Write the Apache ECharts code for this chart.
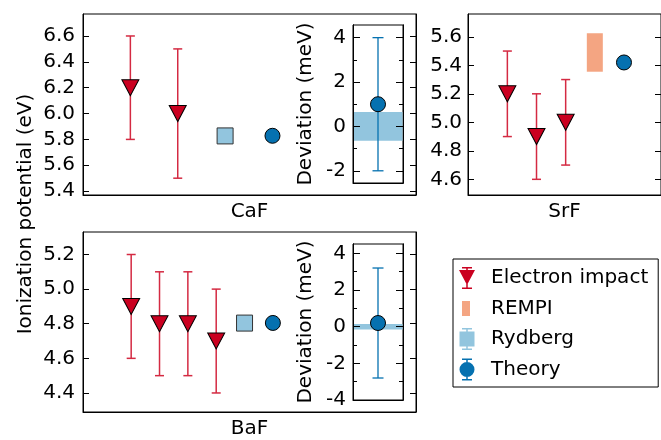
<!DOCTYPE html>
<html><head><meta charset="utf-8">
<script src="https://cdn.jsdelivr.net/npm/echarts@6/dist/echarts.min.js"></script>
<style>html,body{margin:0;padding:0;background:#fff}#c{width:661px;height:440px}</style>
</head><body><div id="c"></div>
<script>
const FONT = 'DejaVu Sans';
// ---- data ----
const categories = ['CaF', 'SrF', 'BaF'];
const legendNames = ['Electron impact', 'REMPI', 'Rydberg', 'Theory'];
// CaF
const cafEI = [6.2, 6.0];
const cafEIerr = [0.4, 0.5];
const cafRydberg = [5.827];
const cafTheory = [5.828];
const cafDev = [1.0];
const cafDevErr = [3.0];
const cafRydbergUnc = [0.65];
const cafTicks = [5.4, 5.6, 5.8, 6.0, 6.2, 6.4, 6.6];
const cafDevTicks = [-2, 0, 2, 4];
const cafDevMinor = [-1, 1, 3];
// SrF
const srfEI = [5.2, 4.9, 5.0];
const srfEIerr = [0.3, 0.3, 0.3];
const srfREMPI = [[5.355, 5.625]];
const srfTheory = [5.42];
const srfTicks = [4.6, 4.8, 5.0, 5.2, 5.4, 5.6];
// BaF
const bafEI = [4.9, 4.8, 4.8, 4.7];
const bafEIerr = [0.3, 0.3, 0.3, 0.3];
const bafRydberg = [4.8037];
const bafTheory = [4.8045];
const bafDev = [0.2];
const bafDevErr = [3.0];
const bafRydbergUnc = [0.15];
const bafTicks = [4.4, 4.6, 4.8, 5.0, 5.2];
const bafDevTicks = [-4, -2, 0, 2, 4];
const bafDevMinor = [-3, -1, 1, 3];

// ---- styles ----
const RED = '#ca0020', RED_ERR = '#d42a42', SALMON = '#f4a582', LBLUE = '#92c5de', BLUE = '#0571b0';
const txt = {fontFamily: FONT, fontSize: 20, color: '#000'};

function errSeries(name, xi, yi, data, color, lw, cap) {
  return {
    type: 'custom', name: name, xAxisIndex: xi, yAxisIndex: yi, silent: true, z: 2,
    data: data, encode: {x: 0, y: [1, 2]},
    renderItem: function (params, api) {
      const x = api.value(0), lo = api.value(1), hi = api.value(2);
      const a = api.coord([x, hi]), b = api.coord([x, lo]);
      const st = {stroke: color, lineWidth: lw};
      return {type: 'group', children: [
        {type: 'line', shape: {x1: a[0], y1: a[1], x2: b[0], y2: b[1]}, style: st},
        {type: 'line', shape: {x1: a[0] - cap, y1: a[1], x2: a[0] + cap, y2: a[1]}, style: st},
        {type: 'line', shape: {x1: b[0] - cap, y1: b[1], x2: b[0] + cap, y2: b[1]}, style: st}
      ]};
    }
  };
}
function bandSeries(name, xi, yi, data, xr) {
  return {
    type: 'custom', name: name, xAxisIndex: xi, yAxisIndex: yi, silent: true, z: 1,
    data: data, encode: {x: 0, y: [1, 2]},
    renderItem: function (params, api) {
      const lo = api.value(1), hi = api.value(2);
      const a = api.coord([xr[0], hi]), b = api.coord([xr[1], lo]);
      return {type: 'rect', shape: {x: a[0] + 0.5, y: a[1], width: b[0] - a[0] - 1, height: b[1] - a[1]}, style: {fill: LBLUE}};
    }
  };
}
function scat(name, xi, yi, data, symbol, size, color, rot, border) {
  return {type: 'scatter', name: name, xAxisIndex: xi, yAxisIndex: yi, data: data, symbol: symbol,
    symbolSize: size, symbolRotate: rot || 0, z: 5,
    itemStyle: {color: color, borderColor: border || '#000', borderWidth: 1, opacity: 1}};
}
function xAx(gi, min, max, name) {
  return {gridIndex: gi, type: 'value', min: min, max: max, z: 4,
    axisLine: {show: true, onZero: false, lineStyle: {color: '#000', width: 1}},
    axisTick: {show: false}, axisLabel: {show: false}, splitLine: {show: false},
    name: name || '', nameLocation: 'middle', nameGap: 7, nameTextStyle: txt};
}
function yAx(gi, min, max, pos, ticks, len, showLabel, margin, dec, name, nameGap) {
  return {gridIndex: gi, type: 'value', min: min, max: max, position: pos, z: 4,
    axisLine: {show: true, onZero: false, lineStyle: {color: '#000', width: 1}},
    axisTick: {show: true, inside: true, length: len, customValues: ticks, lineStyle: {color: '#000', width: 1}},
    axisLabel: {show: showLabel, customValues: ticks, margin: margin, fontFamily: FONT, fontSize: 20, color: '#000',
      formatter: function (v) { return v.toFixed(dec); }},
    splitLine: {show: false},
    name: name || '', nameLocation: 'middle', nameGap: nameGap || 0, nameRotate: 90, nameTextStyle: txt};
}
const pts = arr => arr.map((v, i) => [i, v]);
const errs = (arr, e, off) => arr.map((v, i) => [i + (off || 0), v - e[i], v + e[i]]);

// grid ranges
const cafX = [-1, 6.03], srfX = [-1.35, 5.27], bafX = [-1.7, 10.05], insX = [0, 2];
const cafY = [5.37, 6.77], srfY = [4.49, 5.76], bafY = [4.29, 5.33];
const cafDY = [-2.55, 4.57], bafDY = [-4, 4.51];

const option = {
  animation: false,
  backgroundColor: '#fff',
  grid: [
    {left: 83, top: 14, width: 333, height: 181, show: true, borderColor: '#000', borderWidth: 1, backgroundColor: '#fff'},
    {left: 353, top: 25, width: 50, height: 158, show: true, borderColor: '#000', borderWidth: 1, backgroundColor: '#fff'},
    {left: 468, top: 14, width: 194, height: 181, show: true, borderColor: '#000', borderWidth: 1, backgroundColor: '#fff'},
    {left: 83, top: 232, width: 333, height: 181, show: true, borderColor: '#000', borderWidth: 1, backgroundColor: '#fff'},
    {left: 353, top: 244, width: 50, height: 156, show: true, borderColor: '#000', borderWidth: 1, backgroundColor: '#fff'}
  ],
  xAxis: [
    xAx(0, cafX[0], cafX[1], categories[0]),
    xAx(1, insX[0], insX[1]),
    xAx(2, srfX[0], srfX[1], categories[1]),
    xAx(3, bafX[0], bafX[1], categories[2]),
    xAx(4, insX[0], insX[1])
  ],
  yAxis: [
    yAx(0, cafY[0], cafY[1], 'left', cafTicks, 6, true, 8, 1),            // 0
    yAx(0, cafY[0], cafY[1], 'right', cafTicks, 6, false, 8, 1),          // 1
    yAx(1, cafDY[0], cafDY[1], 'left', cafDevTicks, 7, true, 7, 0, 'Deviation (meV)', 37), // 2
    yAx(1, cafDY[0], cafDY[1], 'left', cafDevMinor, 4, false, 7, 0),      // 3
    yAx(1, cafDY[0], cafDY[1], 'right', cafDevTicks, 7, false, 7, 0),     // 4
    yAx(1, cafDY[0], cafDY[1], 'right', cafDevMinor, 4, false, 7, 0),     // 5
    yAx(2, srfY[0], srfY[1], 'left', srfTicks, 6, true, 6, 1),            // 6
    yAx(2, srfY[0], srfY[1], 'right', srfTicks, 6, false, 6, 1),          // 7
    yAx(3, bafY[0], bafY[1], 'left', bafTicks, 6, true, 8, 1),            // 8
    yAx(3, bafY[0], bafY[1], 'right', bafTicks, 6, false, 8, 1),          // 9
    yAx(4, bafDY[0], bafDY[1], 'left', bafDevTicks, 7, true, 7, 0, 'Deviation (meV)', 37), // 10
    yAx(4, bafDY[0], bafDY[1], 'left', bafDevMinor, 4, false, 7, 0),      // 11
    yAx(4, bafDY[0], bafDY[1], 'right', bafDevTicks, 7, false, 7, 0),     // 12
    yAx(4, bafDY[0], bafDY[1], 'right', bafDevMinor, 4, false, 7, 0)      // 13
  ],
  legend: {
    orient: 'vertical', left: 453, top: 259, padding: [8, 10, 6.5, 6], itemGap: 8.5,
    itemWidth: 16, itemHeight: 22, borderColor: '#000', borderWidth: 1, borderRadius: 0,
    backgroundColor: '#fff', selectedMode: false,
    textStyle: {fontFamily: FONT, fontSize: 20, color: '#000', padding: [0, 0, 0, 11]},
    data: [
      {name: legendNames[0], icon: 'path://M3,0H13V1.5H3Z M7.25,0H8.75V22H7.25Z M3,20.5H13V22H3Z M0,3H16L8,18Z', itemStyle: {borderWidth: 0, color: RED}},
      {name: legendNames[1], icon: 'path://M0,0M16,22M3,3.5H11V18.5H3Z', itemStyle: {borderWidth: 0, color: SALMON}},
      {name: legendNames[2], icon: 'path://M3,0H13V1.5H3Z M7.25,0H8.75V22H7.25Z M3,20.5H13V22H3Z M0.5,3.5H15.5V18.5H0.5Z', itemStyle: {borderWidth: 0, color: LBLUE}},
      {name: legendNames[3], icon: 'path://M3,0H13V1.5H3Z M7.25,0H8.75V22H7.25Z M3,20.5H13V22H3Z M0.5,11A7.5,7.5 0 1,1 15.5,11A7.5,7.5 0 1,1 0.5,11Z', itemStyle: {borderWidth: 0, color: BLUE}}
    ]
  },
  graphic: [{
    type: 'text', x: 26, y: 214, rotation: Math.PI / 2,
    style: {text: 'Ionization potential (eV)', font: '20px "DejaVu Sans"', fill: '#000', textAlign: 'center', textVerticalAlign: 'middle'}
  }],
  series: [
    // CaF
    errSeries('caf-ei-err', 0, 0, errs(cafEI, cafEIerr), RED_ERR, 1.5, 4.5),
    scat(legendNames[0], 0, 0, pts(cafEI), 'triangle', [17, 16], RED, 180),
    scat(legendNames[2], 0, 0, cafRydberg.map(v => [cafEI.length, v]), 'rect', 16, LBLUE, 0, '#333'),
    scat(legendNames[3], 0, 0, cafTheory.map(v => [cafEI.length + 1, v]), 'circle', 15, BLUE),
    bandSeries('caf-band', 1, 2, cafRydbergUnc.map(u => [1, -u, u]), insX),
    errSeries('caf-dev-err', 1, 2, errs(cafDev, cafDevErr, 1), BLUE, 1.3, 5.5),
    scat(legendNames[3], 1, 2, cafDev.map(v => [1, v]), 'circle', 15, BLUE),
    // SrF
    errSeries('srf-ei-err', 2, 6, errs(srfEI, srfEIerr), RED_ERR, 1.5, 4.5),
    scat(legendNames[0], 2, 6, pts(srfEI), 'triangle', [17, 16], RED, 180),
    {
      type: 'custom', name: legendNames[1], xAxisIndex: 2, yAxisIndex: 6, z: 3,
      itemStyle: {color: SALMON},
      data: srfREMPI.map(r => [srfEI.length, r[0], r[1]]), encode: {x: 0, y: [1, 2]},
      renderItem: function (params, api) {
        const x = api.value(0), lo = api.value(1), hi = api.value(2);
        const a = api.coord([x, hi]), b = api.coord([x, lo]);
        return {type: 'rect', shape: {x: a[0] - 8, y: a[1], width: 16, height: b[1] - a[1]}, style: {fill: SALMON}};
      }
    },
    scat(legendNames[3], 2, 6, srfTheory.map(v => [srfEI.length + 1, v]), 'circle', 15, BLUE),
    // BaF
    errSeries('baf-ei-err', 3, 8, errs(bafEI, bafEIerr), RED_ERR, 1.5, 4.5),
    scat(legendNames[0], 3, 8, pts(bafEI), 'triangle', [17, 16], RED, 180),
    scat(legendNames[2], 3, 8, bafRydberg.map(v => [bafEI.length, v]), 'rect', 16, LBLUE, 0, '#333'),
    scat(legendNames[3], 3, 8, bafTheory.map(v => [bafEI.length + 1, v]), 'circle', 15, BLUE),
    bandSeries('baf-band', 4, 10, bafRydbergUnc.map(u => [1, -u, u]), insX),
    errSeries('baf-dev-err', 4, 10, errs(bafDev, bafDevErr, 1), BLUE, 1.3, 5.5),
    scat(legendNames[3], 4, 10, bafDev.map(v => [1, v]), 'circle', 15, BLUE)
  ]
};
const chart = echarts.init(document.getElementById('c'), null, {renderer: 'canvas'});
chart.setOption(option);
</script></body></html>
